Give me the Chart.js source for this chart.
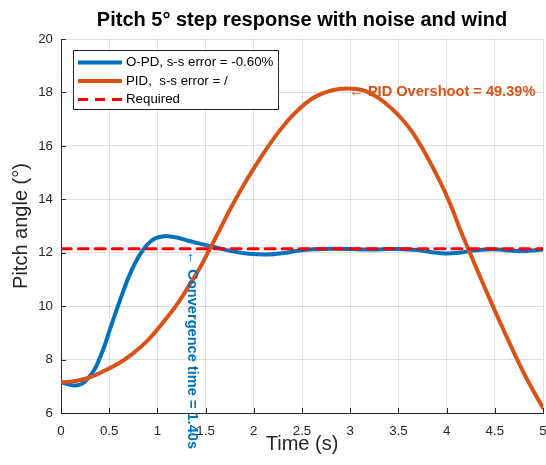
<!DOCTYPE html>
<html>
<head>
<meta charset="utf-8">
<title>Pitch 5° step response</title>
<script src="https://cdn.jsdelivr.net/npm/chart.js@4.4.1/dist/chart.umd.min.js"></script>
<style>
  html, body { margin: 0; padding: 0; background: #fff; }
</style>
</head>
<body>
<canvas id="chart" width="546" height="465"></canvas>
<script>
"use strict";

// O-PD response
const opdTime = [0, 0.08, 0.15, 0.22, 0.28, 0.34, 0.39, 0.45, 0.5, 0.55, 0.6, 0.65, 0.70, 0.77, 0.835, 0.9, 0.97, 1.04, 1.11, 1.2, 1.32, 1.44, 1.56, 1.78, 1.95, 2.13, 2.3, 2.47, 2.65, 2.82, 3.0, 3.16, 3.35, 3.51, 3.7, 3.85, 3.99, 4.13, 4.27, 4.4, 4.54, 4.72, 4.85, 5.0];
const opdPitch = [7.15, 7.07, 7.03, 7.1, 7.3, 7.58, 7.95, 8.5, 9.05, 9.58, 10.1, 10.6, 11.07, 11.62, 12.02, 12.32, 12.52, 12.6, 12.62, 12.57, 12.45, 12.34, 12.24, 12.05, 11.96, 11.93, 11.98, 12.08, 12.13, 12.15, 12.14, 12.12, 12.13, 12.14, 12.1, 12.02, 11.97, 12.0, 12.08, 12.12, 12.12, 12.06, 12.07, 12.12];

// PID response
const pidTime = [0, 0.15, 0.28, 0.45, 0.63, 0.77, 0.9, 1.0, 1.11, 1.22, 1.32, 1.44, 1.54, 1.65, 1.75, 1.87, 1.99, 2.13, 2.27, 2.4, 2.54, 2.66, 2.78, 2.88, 2.97, 3.06, 3.16, 3.3, 3.44, 3.55, 3.65, 3.75, 3.85, 3.96, 4.06, 4.14, 4.23, 4.35, 4.48, 4.62, 4.75, 4.87, 5.0];
const pidPitch = [7.15, 7.2, 7.31, 7.58, 7.93, 8.3, 8.72, 9.13, 9.62, 10.15, 10.72, 11.43, 12.12, 12.88, 13.6, 14.38, 15.1, 15.88, 16.58, 17.13, 17.6, 17.88, 18.05, 18.13, 18.15, 18.13, 18.05, 17.78, 17.36, 16.95, 16.49, 15.9, 15.24, 14.45, 13.63, 12.87, 12.1, 11.08, 10.0, 8.88, 7.87, 7.02, 6.2];

const requiredPitch = 12.15;
const timeRange = [0, 5];
const pitchRange = [6, 20];

const seriesLabels = ['O-PD, s-s error = -0.60%', 'PID,  s-s error = /', 'Required'];
const titleText = 'Pitch 5° step response with noise and wind';
const xTitle = 'Time (s)';
const yTitle = 'Pitch angle (°)';

// text notes: [time, pitch]
const overshootNote = { at: [2.99, 18.1], text: '\u2190 PID Overshoot = 49.39%' };
const convergeNote = { at: [1.40, 12.15], text: '\u2190 Convergence time = 1.40s' };

const blue = '#0072BD';
const orange = '#D95319';
const red = '#FF0000';
const axisColor = '#262626';
const gridColor = 'rgba(38,38,38,0.15)';
const fontFamily = "'Liberation Sans', Arial, Helvetica, sans-serif";

Chart.defaults.font.family = fontFamily;
Chart.defaults.color = axisColor;

function toPoints(xs, ys) {
  let pts = [];
  for (let i = 0; i < xs.length; i++) {
    pts.push({ x: xs[i], y: ys[i] });
  }
  return pts;
}

function plainTick(value) {
  return String(Number(value));
}

let innerTicks = {
  id: 'innerTicks',
  afterDatasetsDraw(chart) {
    let ctx = chart.ctx;
    let xs = chart.scales.x;
    let ys = chart.scales.y;
    ctx.save();
    ctx.strokeStyle = axisColor;
    ctx.lineWidth = 1;
    ctx.beginPath();
    xs.ticks.forEach(function (t) {
      let px = Math.round(xs.getPixelForValue(t.value)) + 0.5;
      ctx.moveTo(px, ys.bottom);
      ctx.lineTo(px, ys.bottom - 5);
    });
    ys.ticks.forEach(function (t) {
      let py = Math.round(ys.getPixelForValue(t.value)) + 0.5;
      ctx.moveTo(xs.left, py);
      ctx.lineTo(xs.left + 5, py);
    });
    ctx.stroke();
    ctx.restore();
  }
};

let notes = {
  id: 'notes',
  afterDraw(chart) {
    let ctx = chart.ctx;
    let xs = chart.scales.x;
    let ys = chart.scales.y;
    ctx.save();
    ctx.font = 'bold 14.6px ' + fontFamily;

    // overshoot note, left aligned at the peak
    ctx.fillStyle = orange;
    ctx.textAlign = 'left';
    ctx.textBaseline = 'middle';
    ctx.fillText(overshootNote.text, xs.getPixelForValue(overshootNote.at[0]), ys.getPixelForValue(overshootNote.at[1]) + 2);

    // convergence note, rotated so it reads downwards
    ctx.fillStyle = blue;
    ctx.translate(xs.getPixelForValue(convergeNote.at[0]), ys.getPixelForValue(convergeNote.at[1]) + 2);
    ctx.rotate(Math.PI / 2);
    ctx.fillText(convergeNote.text, 0, 4);
    ctx.restore();
  }
};

let boxLegend = {
  id: 'boxLegend',
  afterDraw(chart) {
    let ctx = chart.ctx;
    let left = 73, top = 50, w = 205, h = 59;
    ctx.save();
    ctx.fillStyle = '#fff';
    ctx.fillRect(left, top, w, h);
    ctx.strokeStyle = axisColor;
    ctx.lineWidth = 1;
    ctx.strokeRect(left + 0.5, top + 0.5, w, h);

    ctx.font = '13.3px ' + fontFamily;
    ctx.textAlign = 'left';
    ctx.textBaseline = 'middle';
    chart.data.datasets.forEach(function (ds, i) {
      let y = top + 12.5 + i * 18.5;
      ctx.strokeStyle = ds.borderColor;
      ctx.lineWidth = ds.borderWidth;
      ctx.setLineDash(ds.borderDash || []);
      ctx.beginPath();
      ctx.moveTo(left + 5, y);
      ctx.lineTo(left + 49, y);
      ctx.stroke();
      ctx.setLineDash([]);
      ctx.fillStyle = '#000';
      ctx.fillText(ds.label, left + 53, y);
    });
    ctx.restore();
  }
};

const data = {
  datasets: [
    {
      label: seriesLabels[0],
      data: toPoints(opdTime, opdPitch),
      borderColor: blue,
      borderWidth: 4,
      order: 3
    },
    {
      label: seriesLabels[1],
      data: toPoints(pidTime, pidPitch),
      borderColor: orange,
      borderWidth: 4,
      order: 2
    },
    {
      label: seriesLabels[2],
      data: toPoints(timeRange, [requiredPitch, requiredPitch]),
      borderColor: red,
      borderWidth: 3,
      borderDash: [10, 7],
      order: 1
    }
  ]
};

let config = {
  type: 'line',
  data: data,
  options: {
    responsive: false,
    animation: false,
    layout: { padding: { left: 0, right: 3, top: 0, bottom: 0 } },
    elements: {
      point: { radius: 0 },
      line: { tension: 0.4, fill: false, borderCapStyle: 'round', borderJoinStyle: 'round' }
    },
    plugins: {
      legend: { display: false },
      tooltip: { enabled: false },
      title: {
        display: true,
        text: titleText,
        fullSize: false,
        color: '#000',
        font: { size: 20, weight: 'bold' },
        padding: { top: 8, bottom: 7 }
      }
    },
    scales: {
      x: {
        type: 'linear',
        min: timeRange[0],
        max: timeRange[1],
        ticks: { stepSize: 0.5, padding: 10, font: { size: 13.3 }, color: axisColor, maxRotation: 0, callback: plainTick },
        grid: { color: gridColor, drawTicks: false },
        border: { color: axisColor, width: 1 },
        title: { display: true, text: xTitle, font: { size: 20 }, color: axisColor, padding: { top: 0, bottom: 9 } },
        afterFit(scale) {
          scale.height = 52;
          scale.paddingLeft = 0;
          scale.paddingRight = 0;
        }
      },
      y: {
        min: pitchRange[0],
        max: pitchRange[1],
        ticks: { stepSize: 2, padding: 8, font: { size: 13.3 }, color: axisColor, callback: plainTick },
        grid: { color: gridColor, drawTicks: false },
        border: { color: axisColor, width: 1 },
        title: { display: true, text: yTitle, font: { size: 20 }, color: axisColor, padding: { top: 9, bottom: 0 } },
        afterFit(scale) {
          scale.width = 61;
          scale.paddingTop = 0;
          scale.paddingBottom = 0;
        }
      }
    }
  },
  plugins: [innerTicks, notes, boxLegend]
};

let myChart = new Chart(document.getElementById('chart'), config);
</script>
</body>
</html>
